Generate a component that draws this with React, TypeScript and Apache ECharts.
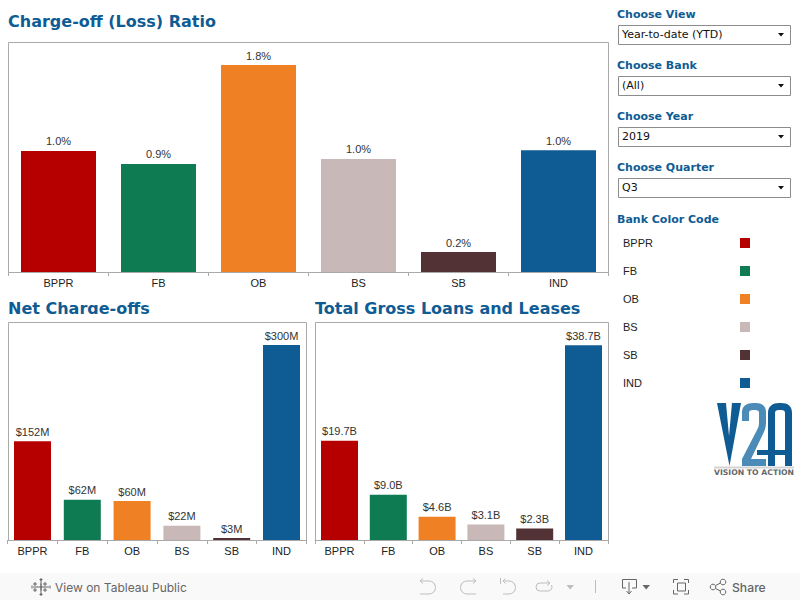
import React, { useEffect, useRef } from "react";
import * as echarts from "echarts";

const banks = ["BPPR", "FB", "OB", "BS", "SB", "IND"];
const bankColors = ["#b60000", "#0f7b52", "#f08024", "#c8b9b8", "#533236", "#0f5c94"];
const ratioValues = [1.042, 0.93, 1.782, 0.973, 0.172, 1.049];
const netChargeOffs = [152, 62, 60, 22, 3, 300];
const grossLoans = [19.7, 9.0, 4.6, 3.1, 2.3, 38.7];
const filterLabels = ["Choose View", "Choose Bank", "Choose Year", "Choose Quarter"];
const filterValues = ["Year-to-date (YTD)", "(All)", "2019", "Q3"];

const BLUE = "#0f5c94";
const ARIAL = "'Liberation Sans', Arial, sans-serif";
const DEJAVU = "'DejaVu Sans', Verdana, sans-serif";
const UI = "Inter, 'Noto Sans', sans-serif";

const iconPaths: Record<string, string> = {
  iconUndo: "M420 581H429A6.5 6.5 0 0 1 429 594H420M423 578.5L420 581L423 583.5",
  iconRedo: "M476 581H467A6.5 6.5 0 0 0 467 594H476M473 578.5L476 581L473 583.5",
  iconRevert: "M500.5 578V584M503 581H509A6.5 6.5 0 0 1 509 594H503M505.5 578.5L503 581L505.5 583.5",
  iconRefresh: "M549 583H540A4 4 0 0 0 540 591H548A4 4 0 0 0 551.5 585M547 580.5L550 583L547 585.5",
  iconDownload: "M626 588H622.5V579.5H636.5V588H632M629 582V593M626.5 591L629 594L631.5 591",
  iconFull: "M673.5 583V579.5H678M684 579.5H688.5V583M688.5 590V594H684M678 594H673.5V590M677.5 583H685.5V591H677.5Z",
  iconShare: "M715.5 585.5L720.5 583M715.5 588.5L720.5 591",
  iconTableau: "M41 579V595M37.5 587H44.5M33 587H38M44 587H49M41 583.5V590.5M35 582V586M33 584H37M45 582V586M43 584H47M35 588V592M33 590H37M45 588V592M43 590H47M41 578V581M39.5 579.5H42.5M41 593V596M39.5 594.5H42.5M32 585.5V588.5M50 585.5V588.5",
  logoV: "M717 403H726L729 436L732 403H741L729.5 466Z",
  logoTwo:
    "M742 421V412C742 406 747 403 753 403H756C762 403 766 406 766 412V423C766 428 764 432 762 436L751 459H766V466H742V459L757 430C758 428 759 426 759 423V413C759 411 758 410 755 410H753C750 410 749 411 749 413V421Z",
  logoA:
    "M768 466V413C768 406 773 403 779 403H781C788 403 792 406 792 413V466H785V455H757V450H785V413C785 411 784 410 781 410H779C776 410 775 411 775 413V466Z",
};

function barSeries(values: number[], xAxisIndex: number, barWidth: number, format: (v: number) => string) {
  return {
    type: "bar",
    xAxisIndex,
    yAxisIndex: xAxisIndex,
    barWidth,
    data: values.map((value, i) => ({ value, itemStyle: { color: bankColors[i] } })),
    label: {
      show: true,
      position: "top",
      distance: 4,
      fontFamily: ARIAL,
      fontSize: 11,
      color: "#333",
      formatter: (p: any) => format(p.value),
    },
  };
}

function title(text: string, x: number, y: number) {
  return {
    type: "text",
    x,
    y,
    style: { text, fill: BLUE, font: `bold 16px ${DEJAVU}`, textVerticalAlign: "middle" },
  };
}

function icon(type: string, stroke: string) {
  return { type, x: 0, y: 0, style: { fill: "none", stroke, lineWidth: 1 } };
}

function frame(x: number, y: number, width: number, height: number) {
  return { type: "rect", z: -1, shape: { x, y, width, height }, style: { fill: "none", stroke: "#aaa", lineWidth: 1 } };
}

function buildGraphics() {
  const els: any[] = [];
  els.push(frame(8.5, 42.5, 600, 230));
  els.push(frame(8.5, 322.5, 298, 218));
  els.push(frame(315.5, 322.5, 293, 218));
  els.push(title("Charge-off (Loss) Ratio", 8, 21));
  els.push(title("Net Charge-offs", 8, 308));
  els.push(title("Total Gross Loans and Leases", 315, 308));
  // the reference clips the lower part of the title's descender
  els.push({ type: "rect", z: 10, shape: { x: 8, y: 314, width: 300, height: 7 }, style: { fill: "#fff" } });

  filterLabels.forEach((label, i) => {
    const top = 25 + i * 51;
    els.push({
      type: "text",
      x: 617,
      y: top - 11,
      style: { text: label, fill: BLUE, font: `bold 11px ${DEJAVU}`, textVerticalAlign: "middle" },
    });
    els.push({
      type: "rect",
      shape: { x: 618.5, y: top + 0.5, width: 172, height: 19 },
      style: { fill: "#fff", stroke: "#8c8c8c", lineWidth: 1 },
    });
    els.push({
      type: "text",
      x: 622,
      y: top + 9,
      style: { text: filterValues[i], fill: "#111", font: `11px ${DEJAVU}`, textVerticalAlign: "middle" },
    });
    els.push({
      type: "polygon",
      shape: { points: [[778, top + 8], [784, top + 8], [781, top + 11.5]] },
      style: { fill: "#111" },
    });
  });

  els.push({
    type: "text",
    x: 617,
    y: 219,
    style: { text: "Bank Color Code", fill: BLUE, font: `bold 11px ${DEJAVU}`, textVerticalAlign: "middle" },
  });
  banks.forEach((bank, i) => {
    const cy = 243 + i * 28;
    els.push({
      type: "text",
      x: 623,
      y: cy,
      style: { text: bank, fill: "#222", font: `11px ${ARIAL}`, textVerticalAlign: "middle" },
    });
    els.push({ type: "rect", shape: { x: 740, y: cy - 5, width: 10, height: 10 }, style: { fill: bankColors[i] } });
  });

  // logo
  els.push({ type: "logoV", x: 0, y: 0, style: { fill: BLUE } });
  els.push({ type: "logoTwo", x: 0, y: 0, style: { fill: "#4a8bb8" } });
  els.push({ type: "logoA", x: 0, y: 0, style: { fill: BLUE } });
  els.push({ type: "rect", shape: { x: 714, y: 466.5, width: 80, height: 2 }, style: { fill: "#d4d4d4" } });
  els.push({
    type: "text",
    x: 714,
    y: 472.5,
    style: { text: "VISION TO ACTION", fill: "#666", font: `bold 7.7px ${DEJAVU}`, textVerticalAlign: "middle" },
  });

  // footer
  els.push({ type: "rect", shape: { x: 0, y: 573, width: 800, height: 27 }, style: { fill: "#f9f9f9" } });
  els.push(icon("iconTableau", "#666"));
  els.push({
    type: "text",
    x: 55,
    y: 587,
    style: { text: "View on Tableau Public", fill: "#666", font: `400 12px ${UI}`, textVerticalAlign: "middle" },
  });
  els.push(icon("iconUndo", "#bdbdbd"));
  els.push(icon("iconRedo", "#bdbdbd"));
  els.push(icon("iconRevert", "#bdbdbd"));
  els.push(icon("iconRefresh", "#bdbdbd"));
  els.push({ type: "polygon", shape: { points: [[566.5, 585], [574, 585], [570.2, 589.5]] }, style: { fill: "#bdbdbd" } });
  els.push({ type: "rect", shape: { x: 595, y: 580, width: 1, height: 13 }, style: { fill: "#bdbdbd" } });
  els.push(icon("iconDownload", "#666"));
  els.push({ type: "polygon", shape: { points: [[642.5, 585], [650, 585], [646.2, 589.5]] }, style: { fill: "#666" } });
  els.push(icon("iconFull", "#666"));
  els.push(icon("iconShare", "#666"));
  [[713, 587], [723, 582], [723, 592]].forEach(([cx, cy]) => {
    els.push({ type: "circle", shape: { cx, cy, r: 2.8 }, style: { fill: "none", stroke: "#666", lineWidth: 1 } });
  });
  els.push({
    type: "text",
    x: 732,
    y: 587,
    style: { text: "Share", fill: "#666", font: `500 12.2px ${UI}`, textVerticalAlign: "middle" },
  });
  return els;
}

const grids = [
  { left: 8.5, top: 42, width: 600, height: 230 },
  { left: 7.6, top: 322, width: 298.8, height: 218 },
  { left: 315.1, top: 322, width: 292.8, height: 218 },
];
const axisMaxima = [1.98, 335.4, 43.3];

export default function App() {
  const ref = useRef<HTMLDivElement>(null);
  useEffect(() => {
    Object.entries(iconPaths).forEach(([name, d]) => {
      echarts.graphic.registerShape(name, echarts.graphic.extendPath(d, {}) as any);
    });
    const chart = echarts.init(ref.current!, undefined, { renderer: "svg" });
    chart.setOption({
      animation: false,
      backgroundColor: "#fff",
      grid: grids,
      xAxis: grids.map((_, gridIndex) => ({
        type: "category",
        gridIndex,
        data: banks,
        axisLine: { lineStyle: { color: "#aaa" } },
        axisTick: { show: true, length: 4, lineStyle: { color: "#aaa" } },
        axisLabel: { fontFamily: ARIAL, fontSize: 11, color: "#222", margin: 5, interval: 0 },
      })),
      yAxis: grids.map((_, gridIndex) => ({
        type: "value",
        gridIndex,
        min: 0,
        max: axisMaxima[gridIndex],
        show: false,
        splitLine: { show: false },
      })),
      series: [
        barSeries(ratioValues, 0, 75, (v) => `${v.toFixed(1)}%`),
        barSeries(netChargeOffs, 1, 37, (v) => `$${v}M`),
        barSeries(grossLoans, 2, 37, (v) => `$${v.toFixed(1)}B`),
      ],
      graphic: { elements: buildGraphics() },
    });
    return () => chart.dispose();
  }, []);
  return <div ref={ref} style={{ position: "absolute", left: 0, top: 0, width: 800, height: 600 }} />;
}
